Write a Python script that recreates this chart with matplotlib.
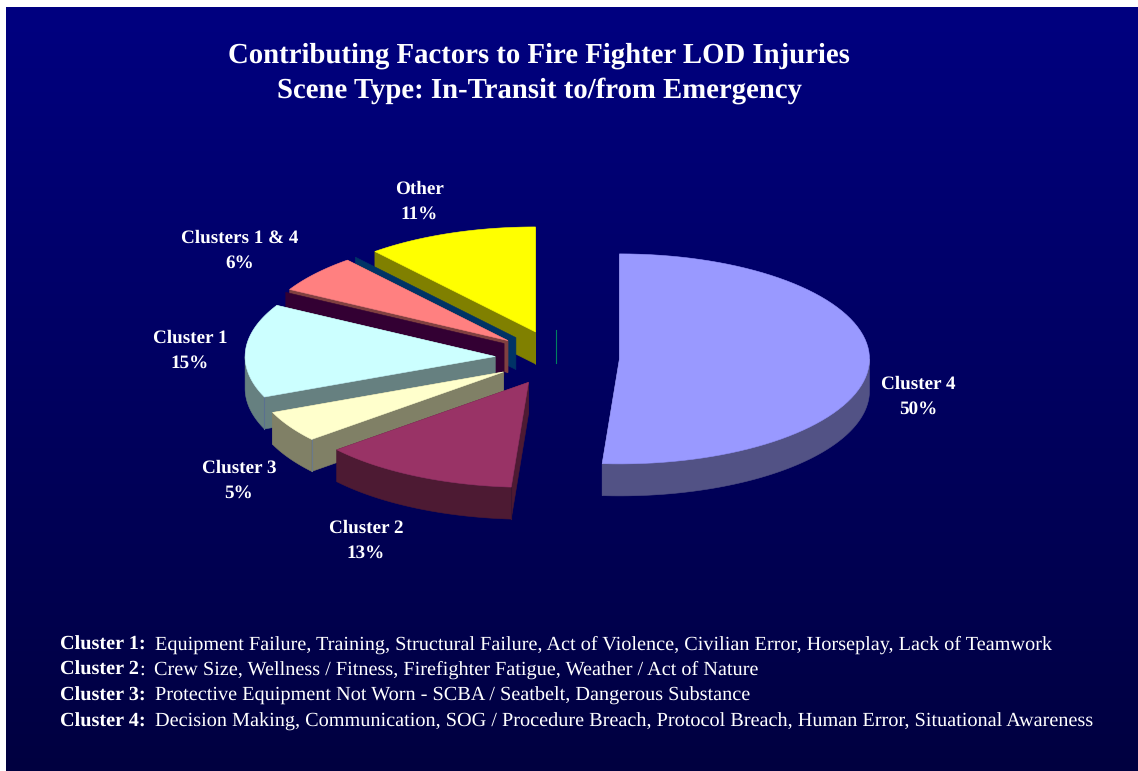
import numpy as np
import matplotlib
matplotlib.use('Agg')
import matplotlib.pyplot as plt
from matplotlib.patches import Polygon

plt.rcParams['font.family'] = ['Liberation Serif', 'DejaVu Serif']
plt.rcParams['text.hinting'] = 'no_hinting'

# clockwise from 12 o'clock, as the slices appear
names = ['Cluster 4', 'Cluster 2', 'Cluster 3', 'Cluster 1', 'Clusters 1 & 4', 'Other']
percent_labels = [50, 13, 5, 15, 6, 11]
shares = [51.1, 12.8, 4.8, 14.4, 5.8, 11.1]
explode = [61.5, 65, 64, 63, 65, 66]

top_colors = ['#9999FF', '#993366', '#FFFFCC', '#CCFFFF', '#FF8080', '#FFFF00']
side_colors = ['#525285', '#4D1A33', '#808066', '#668080', '#804040', '#808000']
seam_colors = ['#525285', '#3D1530', '#6A7A8A', '#5A7090', '#804040', '#808000']

title_lines = ['Contributing Factors to Fire Fighter LOD Injuries',
               'Scene Type: In-Transit to/from Emergency']
footer_heads = ['Cluster 1:', 'Cluster 2', 'Cluster 3:', 'Cluster 4:']
footer_texts = ['Equipment Failure, Training, Structural Failure, Act of Violence, Civilian Error, Horseplay, Lack of Teamwork',
                'Crew Size, Wellness / Fitness, Firefighter Fatigue, Weather / Act of Nature',
                'Protective Equipment Not Worn - SCBA / Seatbelt, Dangerous Substance',
                'Decision Making, Communication, SOG / Procedure Breach, Protocol Breach, Human Error, Situational Awareness']

# layout, in pixels
cx, cy = 558, 358
rx, ry = 250, 105
depth = 32
label_pos = [(918, 397), (366, 541), (239, 481), (190, 351), (240, 251), (419, 202)]
back_walls = {3: ('#330033', 9, -13), 4: ('#003366', 8, -3)}
footer_y = [650, 675, 701, 727]
footer_x = [155.5, 154, 155.5, 155.5]


def rim(ax_x, ax_y, deg):
    a = np.radians(deg)
    return ax_x + rx * np.sin(a), ax_y - ry * np.cos(a)


def wall(ax, pts, color, z):
    pts = list(pts)
    low = [(x, y + depth) for x, y in reversed(pts)]
    ax.add_patch(Polygon(pts + low, closed=True, fc=color, ec=color, lw=0.4, zorder=z))


fig = plt.figure(figsize=(11.38, 7.71), dpi=100)
ax = fig.add_axes([0, 0, 1, 1])
ax.axis('off')

grad = np.zeros((256, 1, 3))
grad[:, 0, 2] = np.linspace(128, 64, 256) / 255.0
ax.imshow(grad, extent=(6, 1138, 771, 7), aspect='auto', zorder=0, interpolation='bilinear')
ax.set_xlim(0, 1138)
ax.set_ylim(771, 0)

edges = np.concatenate([[0], np.cumsum(shares)]) / np.sum(shares) * 360.0

ax.plot([556, 556], [330, 363], color='#008060', lw=0.8, zorder=1)

# back to front: last slice first
for i in reversed(range(len(shares))):
    z = 2 + (len(shares) - i) * 5
    a0, a1 = edges[i], edges[i + 1]
    mid = np.radians((a0 + a1) / 2)
    ox = cx + explode[i] * np.sin(mid)
    oy = cy - explode[i] * ry / rx * np.cos(mid)
    angles = np.linspace(a0, a1, 80)
    arc = [rim(ox, oy, a) for a in angles]

    if i in back_walls:
        col, dx, dy = back_walls[i]
        wall(ax, [(ox + dx, oy + dy), (arc[-1][0] + dx, arc[-1][1] + dy)], col, z)

    wall(ax, [(ox, oy), arc[0]], side_colors[i], z + 1)
    wall(ax, [(ox, oy), arc[-1]], side_colors[i], z + 1)
    lo, hi = max(a0, 90), min(a1, 270)
    if lo < hi:
        wall(ax, [rim(ox, oy, a) for a in np.linspace(lo, hi, 80)], side_colors[i], z + 2)
        if a0 > 90:
            sx, sy = arc[0]
            ax.plot([sx, sx], [sy, sy + depth], color=seam_colors[i], lw=0.8, zorder=z + 3)

    ax.add_patch(Polygon([(ox, oy)] + arc, closed=True, fc=top_colors[i], ec=top_colors[i],
                         lw=0.4, zorder=z + 4))

    lx, ly = label_pos[i]
    ax.text(lx, ly, '%s\n%d%%' % (names[i], percent_labels[i]), color='white', fontsize=13.75,
            fontweight='bold', ha='center', va='center', linespacing=1.58, zorder=60)

ax.text(539, 63, title_lines[0], color='white', fontsize=20.7, fontweight='bold',
        ha='center', va='baseline', zorder=60)
ax.text(539, 98, title_lines[1], color='white', fontsize=20.7, fontweight='bold',
        ha='center', va='baseline', zorder=60)

for head, body, x, y in zip(footer_heads, footer_texts, footer_x, footer_y):
    ax.text(60, y, head, color='white', fontsize=14.6, fontweight='bold', va='baseline', zorder=60)
    if not head.endswith(':'):
        ax.text(139.5, y, ':', color='white', fontsize=14.6, va='baseline', zorder=60)
    ax.text(x, y, body, color='white', fontsize=14.6, va='baseline', zorder=60)

fig.savefig('out.png', dpi=100, facecolor='white')
